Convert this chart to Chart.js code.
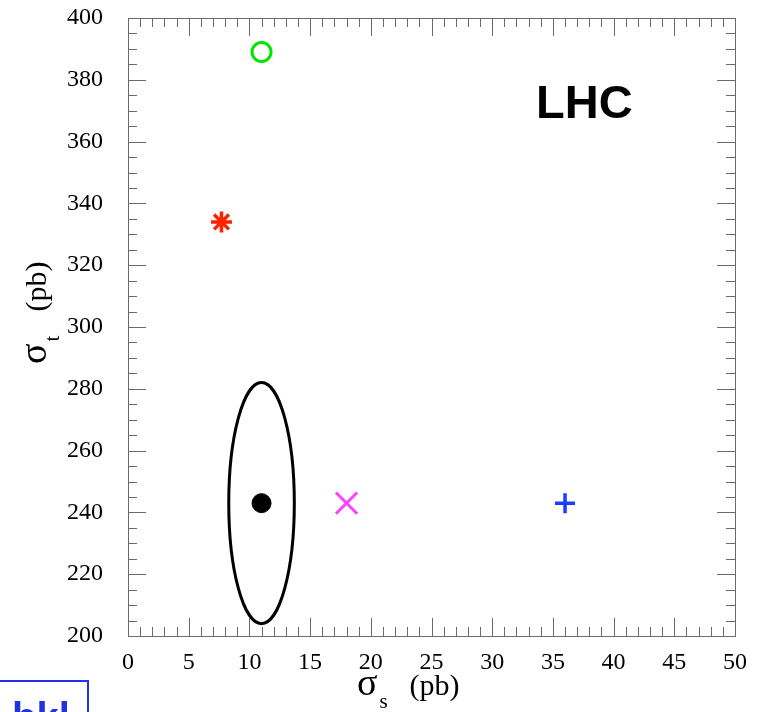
<!DOCTYPE html>
<html>
<head>
<meta charset="utf-8">
<script src="https://cdn.jsdelivr.net/npm/chart.js@4/dist/chart.umd.min.js"></script>
<style>
  html, body { margin: 0; padding: 0; background: #fff; }
  canvas { display: block; }
</style>
</head>
<body>
<canvas id="xsecChart" width="761" height="712"></canvas>
<script>
// cross sections (pb)
const modelNames = ['SM', 'model 1', 'model 2', 'model 3', 'model 4'];
const sigmaS = [11, 18, 36, 7.7, 11];
const sigmaT = [243, 243, 243, 334, 389];

// 1-sigma contour around the SM point: centre and half axes (pb)
const ellipseCenter = [11, 243];
const ellipseHalfAxes = [2.7, 39];

const xRange = [0, 50];
const yRange = [200, 400];

const markers = [
  { pointStyle: 'circle', color: '#000000', fill: '#000000', radius: 9.5, width: 1 },
  { pointStyle: 'crossRot', color: '#ff40ff', fill: '#ff40ff', radius: 15, width: 3 },
  { pointStyle: 'cross', color: '#1a3cff', fill: '#1a3cff', radius: 10, width: 3.5 },
  { pointStyle: 'star', color: '#ff2200', fill: '#ff2200', radius: 10.5, width: 3.5 },
  { pointStyle: 'circle', color: '#00e400', fill: 'rgba(0,0,0,0)', radius: 9.5, width: 3 },
];

const serif = '"Liberation Serif", "DejaVu Serif", serif';

// sigma with a subscript, then "(pb)", drawn from the current origin on the baseline
function sigmaTitle(ctx, sub) {
  ctx.textAlign = 'left';
  ctx.textBaseline = 'alphabetic';
  ctx.font = '38px ' + serif;
  ctx.fillText('σ', 0, 0);
  const w = ctx.measureText('σ').width;
  ctx.font = '21px ' + serif;
  ctx.fillText(sub, w + 2, 13);
  ctx.font = '30px ' + serif;
  ctx.fillText('(pb)', w + 32, 0);
}

const contour = {
  id: 'contour',
  beforeDatasetsDraw(chart) {
    const { ctx, scales: { x, y } } = chart;
    const cx = x.getPixelForValue(ellipseCenter[0]);
    const cy = y.getPixelForValue(ellipseCenter[1]);
    const rx = x.getPixelForValue(ellipseCenter[0] + ellipseHalfAxes[0]) - cx;
    const ry = cy - y.getPixelForValue(ellipseCenter[1] + ellipseHalfAxes[1]);
    ctx.save();
    ctx.strokeStyle = '#000';
    ctx.lineWidth = 3;
    ctx.beginPath();
    ctx.ellipse(cx, cy, rx, ry, 0, 0, Math.PI * 2);
    ctx.stroke();
    ctx.restore();
  },
};

const frame = {
  id: 'frame',
  afterDraw(chart) {
    const { ctx, chartArea: a, scales: { x, y } } = chart;
    ctx.save();
    ctx.strokeStyle = '#6a6a6a';
    ctx.lineWidth = 1;
    ctx.strokeRect(a.left + 0.5, a.top + 0.5, a.right - a.left, a.bottom - a.top);

    // ROOT style ticks on all four sides, pointing inward
    ctx.beginPath();
    for (let v = x.min; v <= x.max; v += 1) {
      const px = Math.round(x.getPixelForValue(v)) + 0.5;
      const len = v % 5 === 0 ? 18 : 9;
      ctx.moveTo(px, a.bottom); ctx.lineTo(px, a.bottom - len);
      ctx.moveTo(px, a.top); ctx.lineTo(px, a.top + len);
    }
    for (let v = y.min; v <= y.max; v += 5) {
      const py = Math.round(y.getPixelForValue(v)) + 0.5;
      const len = v % 20 === 0 ? 18 : 9;
      ctx.moveTo(a.left, py); ctx.lineTo(a.left + len, py);
      ctx.moveTo(a.right, py); ctx.lineTo(a.right - len, py);
    }
    ctx.stroke();

    // axis titles
    ctx.fillStyle = '#000';
    ctx.save();
    ctx.translate(357, 695);
    sigmaTitle(ctx, 's');
    ctx.restore();

    ctx.save();
    ctx.translate(46, 364);
    ctx.rotate(-Math.PI / 2);
    sigmaTitle(ctx, 't');
    ctx.restore();

    // label
    ctx.font = 'bold 47px "Liberation Sans", Arial, sans-serif';
    ctx.textAlign = 'left';
    ctx.textBaseline = 'alphabetic';
    ctx.fillText('LHC', 536, 118);

    // cut-off logo box, bottom left
    ctx.strokeStyle = '#2233dd';
    ctx.lineWidth = 2;
    ctx.strokeRect(-10, 681, 98, 60);
    ctx.fillStyle = '#2233dd';
    ctx.font = 'bold 40px "Liberation Sans", Arial, sans-serif';
    ctx.fillText('bkl', 12, 731);
    ctx.restore();
  },
};

new Chart(document.getElementById('xsecChart'), {
  type: 'scatter',
  data: {
    datasets: modelNames.map((name, i) => ({
      label: name,
      data: [{ x: sigmaS[i], y: sigmaT[i] }],
      pointStyle: markers[i].pointStyle,
      pointRadius: markers[i].radius,
      pointHoverRadius: markers[i].radius,
      borderColor: markers[i].color,
      backgroundColor: markers[i].fill,
      pointBorderWidth: markers[i].width,
      borderWidth: markers[i].width,
    })),
  },
  options: {
    responsive: false,
    devicePixelRatio: 1,
    animation: false,
    clip: false,
    layout: { padding: { top: 18, right: 26, left: 0, bottom: 0 } },
    plugins: {
      legend: { display: false },
      tooltip: { enabled: false },
    },
    scales: {
      x: {
        type: 'linear',
        min: xRange[0],
        max: xRange[1],
        grid: { display: false, drawTicks: false },
        border: { display: false },
        ticks: {
          stepSize: 5,
          padding: 12,
          color: '#000',
          font: { family: serif, size: 24 },
          maxRotation: 0,
        },
        afterFit: (s) => { s.height = 76; s.paddingLeft = 0; s.paddingRight = 0; },
      },
      y: {
        type: 'linear',
        min: yRange[0],
        max: yRange[1],
        grid: { display: false, drawTicks: false },
        border: { display: false },
        ticks: {
          stepSize: 20,
          padding: 25,
          color: '#000',
          font: { family: serif, size: 24 },
        },
        afterFit: (s) => { s.width = 128; s.paddingTop = 0; s.paddingBottom = 0; },
      },
    },
  },
  plugins: [contour, frame],
});
</script>
</body>
</html>
